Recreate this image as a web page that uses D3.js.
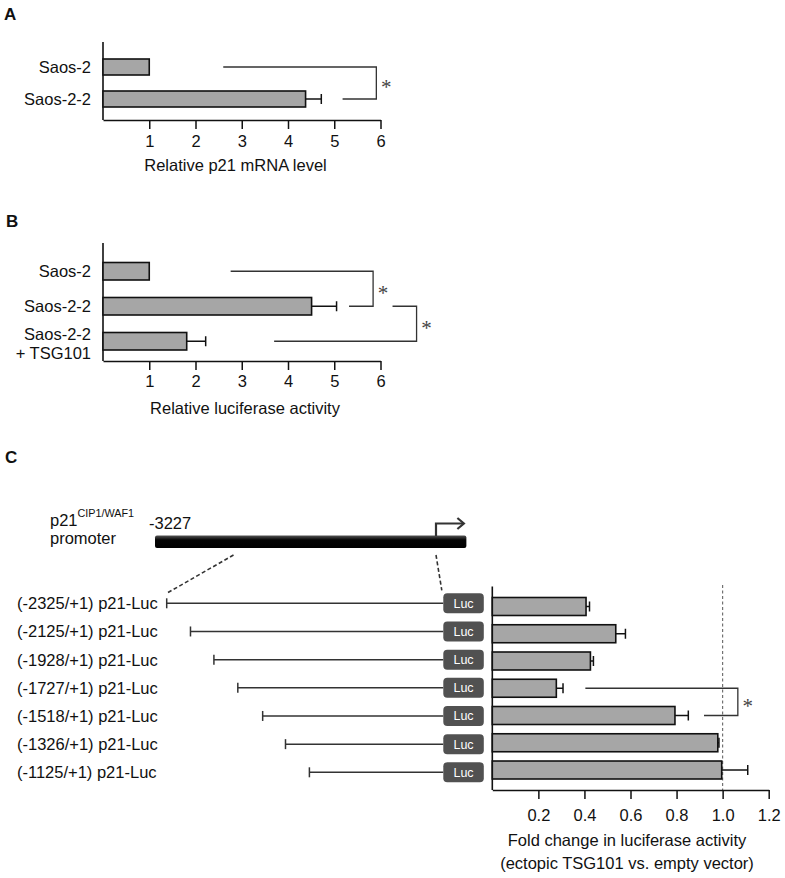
<!DOCTYPE html>
<html>
<head>
<meta charset="utf-8">
<script src="https://cdn.jsdelivr.net/npm/d3@7"></script>
<style>
  body { margin: 0; background: #fff; }
  svg { display: block; font-family: "Liberation Sans", Arial, sans-serif; }
</style>
</head>
<body>
<svg id="chart" width="785" height="878"></svg>
<script>
// ---- data ----
// panel A
var categoriesA = ["Saos-2", "Saos-2-2"];
var valuesA = [1.0, 4.38];
var errorsA = [0, 0.34];
var ticksA = [1, 2, 3, 4, 5, 6];
var bracketsA = [{ from: "Saos-2", to: "Saos-2-2", x1: 2.6, x2: 5.18, x3: 5.91 }];

// panel B
var categoriesB = ["Saos-2", "Saos-2-2", "Saos-2-2 + TSG101"];
var valuesB = [1.0, 4.51, 1.81];
var errorsB = [0, 0.54, 0.41];
var ticksB = [1, 2, 3, 4, 5, 6];
var bracketsB = [
  { from: "Saos-2", to: "Saos-2-2", x1: 2.76, x2: 5.32, x3: 5.84 },
  { from: "Saos-2-2", to: "Saos-2-2 + TSG101", x1: 6.26, x2: 3.70, x3: 6.78 }
];

// panel C
var constructs = [
  "(-2325/+1) p21-Luc", "(-2125/+1) p21-Luc", "(-1928/+1) p21-Luc",
  "(-1727/+1) p21-Luc", "(-1518/+1) p21-Luc", "(-1326/+1) p21-Luc",
  "(-1125/+1) p21-Luc"
];
var constructStarts = [-2325, -2125, -1928, -1727, -1518, -1326, -1125];
var foldChange = [0.407, 0.536, 0.426, 0.278, 0.793, 0.979, 0.996];
var foldError = [0.015, 0.042, 0.013, 0.029, 0.058, 0.005, 0.113];
var ticksC = [0.2, 0.4, 0.6, 0.8, 1.0, 1.2];
var bracketsC = [{ from: constructs[3], to: constructs[4], x1: 0.404, x2: 0.919, x3: 1.066 }];
var promoterStart = -3227, promoterEnd = 350, tss = 1;

var svg = d3.select("#chart");
var FONT = 16.5;
var BAR_FILL = "#a6a6a6";

function drawBars(g, cats, vals, errs, x, y) {
  var rows = cats.map(function (c, i) { return { cat: c, v: vals[i], e: errs[i] }; });
  g.selectAll(null).data(rows).enter().append("rect")
    .attr("x", x(0))
    .attr("y", function (d) { return y(d.cat); })
    .attr("width", function (d) { return x(d.v) - x(0); })
    .attr("height", y.bandwidth())
    .attr("fill", BAR_FILL)
    .attr("stroke", "#111")
    .attr("stroke-width", 1.6);

  var err = g.selectAll(null).data(rows.filter(function (d) { return d.e > 0; })).enter().append("g")
    .attr("stroke", "#111").attr("stroke-width", 1.5);
  err.append("line")
    .attr("x1", function (d) { return x(d.v); })
    .attr("x2", function (d) { return x(d.v + d.e); })
    .attr("y1", function (d) { return y(d.cat) + y.bandwidth() / 2; })
    .attr("y2", function (d) { return y(d.cat) + y.bandwidth() / 2; });
  err.append("line")
    .attr("x1", function (d) { return x(d.v + d.e); })
    .attr("x2", function (d) { return x(d.v + d.e); })
    .attr("y1", function (d) { return y(d.cat) + y.bandwidth() / 2 - 5; })
    .attr("y2", function (d) { return y(d.cat) + y.bandwidth() / 2 + 5; });
}

function drawBracket(g, b, x, y) {
  var ya = y(b.from) + y.bandwidth() / 2, yb = y(b.to) + y.bandwidth() / 2;
  g.append("path")
    .attr("d", d3.line()([[x(b.x1), ya], [x(b.x3), ya], [x(b.x3), yb], [x(b.x2), yb]]))
    .attr("fill", "none")
    .attr("stroke", "#333")
    .attr("stroke-width", 1.3);
  g.append("text")
    .attr("x", x(b.x3) + 10)
    .attr("y", (ya + yb) / 2 + 11)
    .attr("text-anchor", "middle")
    .attr("font-family", "'Liberation Serif', 'Times New Roman', serif")
    .attr("font-size", 21)
    .attr("fill", "#444")
    .text("*");
}

function drawXAxis(g, x, ticks, base, padding, fmt) {
  var axis = d3.axisBottom(x).tickValues(ticks).tickSize(9).tickSizeOuter(0)
    .tickPadding(padding).tickFormat(fmt);
  var a = g.append("g")
    .attr("transform", "translate(0," + base + ")")
    .call(axis)
    .attr("font-size", FONT)
    .attr("font-family", null);
  a.select(".domain").attr("stroke", "#111").attr("stroke-width", 1.6);
  a.selectAll(".tick line").attr("stroke", "#111").attr("stroke-width", 1.5);
  a.selectAll(".tick text").attr("fill", "#111");
}

function panelLabel(txt, x, y) {
  svg.append("text").attr("x", x).attr("y", y)
    .attr("font-size", 17).attr("font-weight", "bold").attr("fill", "#111").text(txt);
}

// ---- panel A ----
panelLabel("A", 4, 20);
var gA = svg.append("g");
var xA = d3.scaleLinear().domain([0, 6]).range([103, 380.5]);
var yA = d3.scaleBand().domain(categoriesA).range([59, 107]).paddingInner(0.5);
gA.append("line").attr("x1", xA(0)).attr("x2", xA(0)).attr("y1", 42).attr("y2", 120)
  .attr("stroke", "#111").attr("stroke-width", 1.6);
drawBars(gA, categoriesA, valuesA, errorsA, xA, yA);
drawXAxis(gA, xA, ticksA, 120, 6, d3.format("d"));
gA.selectAll(null).data(categoriesA).enter().append("text")
  .attr("x", 91)
  .attr("y", function (d) { return yA(d) + yA.bandwidth() / 2 + 6; })
  .attr("text-anchor", "end").attr("font-size", FONT).attr("fill", "#111")
  .text(function (d) { return d; });
bracketsA.forEach(function (b) { drawBracket(gA, b, xA, yA); });
gA.append("text").attr("x", 235.5).attr("y", 171).attr("text-anchor", "middle")
  .attr("font-size", FONT).attr("fill", "#111").text("Relative p21 mRNA level");

// ---- panel B ----
panelLabel("B", 6, 227);
var gB = svg.append("g");
var xB = d3.scaleLinear().domain([0, 6]).range([103, 380.5]);
var yB = d3.scaleBand().domain(categoriesB).range([262.5, 350]).paddingInner(0.5);
gB.append("line").attr("x1", xB(0)).attr("x2", xB(0)).attr("y1", 243).attr("y2", 361)
  .attr("stroke", "#111").attr("stroke-width", 1.6);
drawBars(gB, categoriesB, valuesB, errorsB, xB, yB);
drawXAxis(gB, xB, ticksB, 361, 5, d3.format("d"));
gB.selectAll(null).data(categoriesB).enter().append("text")
  .attr("x", 91)
  .attr("y", function (d) {
    var lines = d.split(" + ");
    return yB(d) + yB.bandwidth() / 2 + (lines.length > 1 ? -1 : 6);
  })
  .attr("text-anchor", "end").attr("font-size", FONT).attr("fill", "#111")
  .each(function (d) {
    var lines = d.split(" + ");
    var t = d3.select(this);
    t.append("tspan").text(lines[0]);
    if (lines.length > 1) t.append("tspan").attr("x", 91).attr("dy", 19).text("+ " + lines[1]);
  });
bracketsB.forEach(function (b) { drawBracket(gB, b, xB, yB); });
gB.append("text").attr("x", 245).attr("y", 414).attr("text-anchor", "middle")
  .attr("font-size", FONT).attr("fill", "#111").text("Relative luciferase activity");

// ---- panel C ----
panelLabel("C", 5, 463);
var gC = svg.append("g");

// promoter diagram
var defs = svg.append("defs");
var grad = defs.append("linearGradient").attr("id", "promGrad").attr("x1", 0).attr("y1", 0).attr("x2", 0).attr("y2", 1);
grad.append("stop").attr("offset", "0%").attr("stop-color", "#555");
grad.append("stop").attr("offset", "35%").attr("stop-color", "#050505");
grad.append("stop").attr("offset", "100%").attr("stop-color", "#000");

var pX = d3.scaleLinear().domain([promoterStart, tss]).range([155, 436]);
gC.append("rect")
  .attr("x", pX(promoterStart)).attr("y", 535.5)
  .attr("width", pX(promoterEnd) - pX(promoterStart)).attr("height", 12.5)
  .attr("rx", 2).attr("fill", "url(#promGrad)");
// transcription start arrow
gC.append("path")
  .attr("d", d3.line()([[pX(tss), 536], [pX(tss), 523.5], [pX(promoterEnd) - 3, 523.5]]))
  .attr("fill", "none").attr("stroke", "#333").attr("stroke-width", 2.2);
gC.append("path")
  .attr("d", d3.line()([[pX(promoterEnd) - 9, 518], [pX(promoterEnd) - 2.5, 523.5], [pX(promoterEnd) - 9, 529]]))
  .attr("fill", "none").attr("stroke", "#333").attr("stroke-width", 2.2);

// "p21^CIP1/WAF1 promoter" as one two-line text
var pLabel = gC.append("text").attr("x", 50).attr("y", 525.5).attr("font-size", FONT).attr("fill", "#111");
pLabel.append("tspan").text("p21");
pLabel.append("tspan").attr("dy", -8.5).attr("font-size", 10.8).text("CIP1/WAF1");
pLabel.append("tspan").attr("x", 50).attr("dy", 27).text("promoter");
gC.append("text").attr("x", 149).attr("y", 529).attr("font-size", FONT).attr("fill", "#111").text("-3227");

// constructs
var cX = d3.scaleLinear().domain([constructStarts[0], tss]).range([166.7, 443.3]);
var cY = d3.scalePoint().domain(constructs).range([603.3, 772.3]);

// zoom guide lines
gC.append("line")
  .attr("x1", pX(constructStarts[0])).attr("y1", 555)
  .attr("x2", cX(constructStarts[0])).attr("y2", cY(constructs[0]) - 10)
  .attr("stroke", "#333").attr("stroke-width", 1.6).attr("stroke-dasharray", "4,2.5");
gC.append("line")
  .attr("x1", pX(tss)).attr("y1", 555)
  .attr("x2", cX(tss) - 1.5).attr("y2", cY(constructs[0]) - 13)
  .attr("stroke", "#333").attr("stroke-width", 1.6).attr("stroke-dasharray", "4,2.5");

var rowC = gC.selectAll(null)
  .data(constructs.map(function (c, i) { return { name: c, start: constructStarts[i] }; }))
  .enter().append("g");
rowC.append("text")
  .attr("x", 17)
  .attr("y", function (d) { return cY(d.name) + 6; })
  .attr("font-size", FONT).attr("fill", "#111")
  .text(function (d) { return d.name; });
rowC.append("line")
  .attr("x1", function (d) { return cX(d.start); })
  .attr("x2", cX(tss))
  .attr("y1", function (d) { return cY(d.name); })
  .attr("y2", function (d) { return cY(d.name); })
  .attr("stroke", "#333").attr("stroke-width", 1.5);
rowC.append("line")
  .attr("x1", function (d) { return cX(d.start); })
  .attr("x2", function (d) { return cX(d.start); })
  .attr("y1", function (d) { return cY(d.name) - 5; })
  .attr("y2", function (d) { return cY(d.name) + 5; })
  .attr("stroke", "#333").attr("stroke-width", 1.5);
rowC.append("rect")
  .attr("x", cX(tss))
  .attr("y", function (d) { return cY(d.name) - 10; })
  .attr("width", 40.5).attr("height", 20).attr("rx", 4)
  .attr("fill", "#515151");
rowC.append("text")
  .attr("x", cX(tss) + 20.25)
  .attr("y", function (d) { return cY(d.name) + 4.5; })
  .attr("text-anchor", "middle")
  .attr("font-family", "'Liberation Sans Narrow', 'Arial Narrow', sans-serif")
  .attr("font-size", 12.5).attr("fill", "#fff")
  .text("Luc");

// fold change bars
var xC = d3.scaleLinear().domain([0, 1.2]).range([492.3, 768.7]);
var yC = d3.scaleBand().domain(constructs).range([597.5, 779]).paddingInner(0.34);
gC.append("line").attr("x1", xC(1)).attr("x2", xC(1)).attr("y1", 585).attr("y2", 790)
  .attr("stroke", "#666").attr("stroke-width", 1.1).attr("stroke-dasharray", "3,2.5");
gC.append("line").attr("x1", xC(0)).attr("x2", xC(0)).attr("y1", 586.5).attr("y2", 790)
  .attr("stroke", "#111").attr("stroke-width", 1.6);
drawBars(gC, constructs, foldChange, foldError, xC, yC);
drawXAxis(gC, xC, ticksC, 790, 10, d3.format(".1f"));
bracketsC.forEach(function (b) { drawBracket(gC, b, xC, yC); });
gC.append("text").attr("x", 627).attr("y", 846).attr("text-anchor", "middle")
  .attr("font-size", FONT).attr("fill", "#111").text("Fold change in luciferase activity");
gC.append("text").attr("x", 627).attr("y", 869).attr("text-anchor", "middle")
  .attr("font-size", FONT).attr("fill", "#111").text("(ectopic TSG101 vs. empty vector)");
</script>
</body>
</html>
